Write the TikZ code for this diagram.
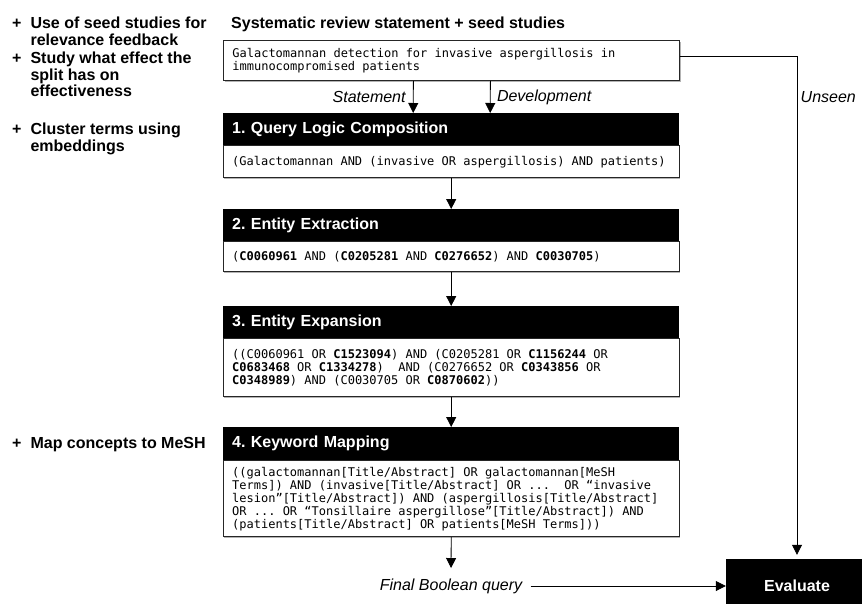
\documentclass[tikz,border=0pt]{standalone}
\usepackage{fontspec}
\setmainfont{Liberation Sans}
\newfontfamily\codefont{DejaVu Sans Mono}
\usetikzlibrary{positioning,arrows.meta,shadows}
\frenchspacing
\newcommand\codetext{\codefont\fontsize{12}{13}\selectfont}

\tikzset{
    headbox/.style={rectangle, fill=black, text=white, anchor=north west,
        font=\bfseries\fontsize{16}{17}\selectfont, text width=438pt,
        inner xsep=9pt, inner ysep=0pt, minimum height=32pt, align=left},
    bodybox/.style={rectangle, draw=black!85, line width=0.8pt, fill=white,
        font=\codetext, text width=438pt,
        inner xsep=9pt, inner ysep=0pt, align=flush left,
        execute at begin node={\spaceskip=7.22pt\relax\xspaceskip=7.22pt\relax},
        drop shadow={shadow xshift=1.2pt, shadow yshift=-1.2pt, opacity=0.6}},
    flow/.style={-{Triangle[length=10pt,width=10pt]}, line width=0.8pt},
    lbl/.style={font=\itshape\fontsize{16}{17}\selectfont},
    note/.style={font=\bfseries\fontsize{16}{16}\selectfont, anchor=north west, inner sep=0pt}
}

\begin{document}
\begin{tikzpicture}[x=1pt, y=-1pt]
    \useasboundingbox (0,0) rectangle (862,603);

    % ideas on the left
    \node[note] (seed) at (12,17) {\begin{tabular}{@{}l@{\hspace{9pt}}l@{}}+ & Use of seed studies for\\ & relevance feedback\end{tabular}};
    \node[note] (split) at (12,52) {\begin{tabular}{@{}l@{\hspace{9pt}}l@{}}+ & Study what effect the\\ & split has on\\ & effectiveness\end{tabular}};
    \node[note] (cluster) at (12,123) {\begin{tabular}{@{}l@{\hspace{9pt}}l@{}}+ & Cluster terms using\\ & embeddings\end{tabular}};
    \node[note] (mesh) at (12,437) {\begin{tabular}{@{}l@{\hspace{9pt}}l@{}}+ & Map concepts to MeSH\end{tabular}};

    % input
    \node[anchor=base west, inner sep=0pt, font=\bfseries\fontsize{16}{17}\selectfont] (title) at (231,28) {Systematic review statement + seed studies};
    \node[bodybox, anchor=north west, minimum height=40pt] (stmt) at (223,40)
        {Galactomannan detection for invasive aspergillosis in\\immunocompromised patients};

    % pipeline stages
    \node[headbox] (h1) at (223,113) {1. Query Logic Composition};
    \node[bodybox, minimum height=32pt, below=0pt of h1] (b1)
        {(Galactomannan AND (invasive OR aspergillosis) AND patients)};

    \node[headbox] (h2) at (223,209) {2. Entity Extraction};
    \node[bodybox, minimum height=30pt, below=0pt of h2] (b2)
        {(\textbf{C0060961} AND (\textbf{C0205281} AND \textbf{C0276652}) AND \textbf{C0030705})};

    \node[headbox] (h3) at (223,306) {3. Entity Expansion};
    \node[bodybox, minimum height=58pt, below=0pt of h3] (b3)
        {((C0060961 OR \textbf{C1523094}) AND (C0205281 OR \textbf{C1156244} OR\\
         \textbf{C0683468} OR \textbf{C1334278})\ \ AND (C0276652 OR \textbf{C0343856} OR\\
         \textbf{C0348989}) AND (C0030705 OR \textbf{C0870602}))};

    \node[headbox, minimum height=33pt] (h4) at (223,427) {4. Keyword Mapping};
    \node[bodybox, minimum height=76pt, below=0pt of h4] (b4)
        {((galactomannan[Title/Abstract] OR galactomannan[MeSH\\
         Terms]) AND (invasive[Title/Abstract] OR ...\ \ OR “invasive\\
         lesion”[Title/Abstract]) AND (aspergillosis[Title/Abstract]\\
         OR ... OR “Tonsillaire aspergillose”[Title/Abstract]) AND\\
         (patients[Title/Abstract] OR patients[MeSH Terms]))};

    % output
    \node[lbl] (final) at (451,586) {Final Boolean query};
    \node[rectangle, fill=black, text=white, font=\bfseries\fontsize{16}{17}\selectfont,
        minimum width=142pt, minimum height=54pt] (eval) at (797,586) {Evaluate};

    % connectors
    \draw[flow] ([xshift=-38pt]stmt.south) -- node[lbl, left=4pt] {Statement} ([xshift=-38pt]h1.north);
    \draw[flow] ([xshift=39pt]stmt.south) -- node[lbl, right=3pt] {Development} ([xshift=39pt]h1.north);
    \draw[flow] (b1.south) -- (h2.north);
    \draw[flow] (b2.south) -- (h3.north);
    \draw[flow] (b3.south) -- (h4.north);
    \draw[flow, shorten >=7pt] (b4.south) -- (final.north);
    \draw[flow, shorten <=5pt] (final.east) -- (eval.west);
    \draw[flow, shorten >=4pt] ([yshift=4pt]stmt.east) -| node[lbl, right, pos=0.54] {Unseen} (eval.north);
\end{tikzpicture}
\end{document}
